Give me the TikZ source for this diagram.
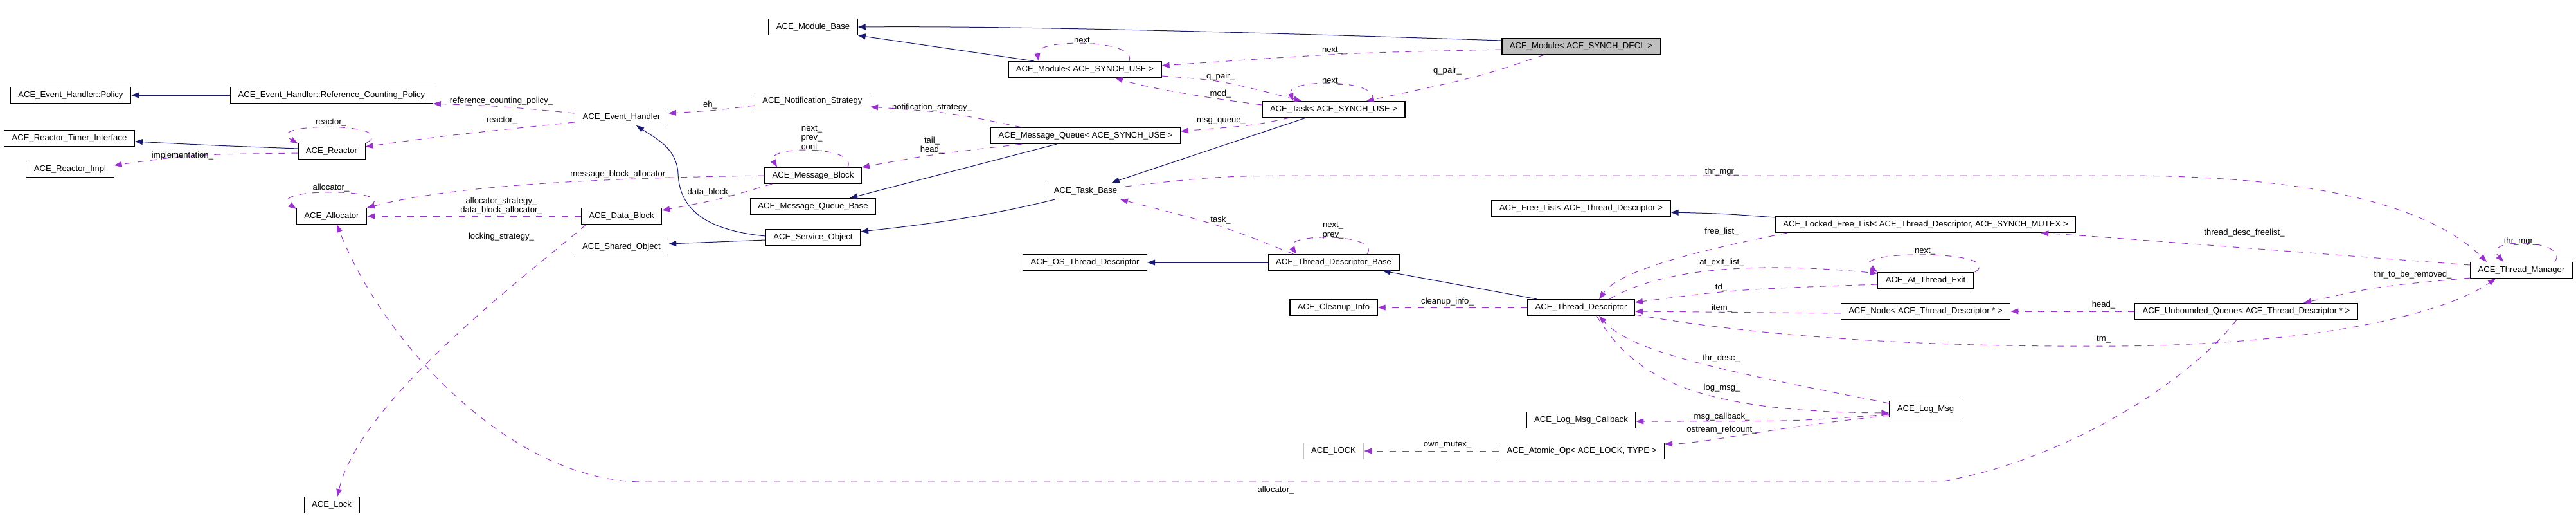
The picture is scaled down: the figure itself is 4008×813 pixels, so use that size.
\documentclass[tikz,border=0pt]{standalone}
\usepackage{fontspec}
\setmainfont{Liberation Sans}
\usetikzlibrary{arrows.meta,calc}
\definecolor{inhblue}{HTML}{191970}
\definecolor{memviolet}{HTML}{9A32CD}
\definecolor{litegray}{HTML}{BFBFBF}
\newcommand{\dxfont}{\fontsize{6.55}{7.25}\selectfont}

\begin{document}
\begin{tikzpicture}[x=0.5pt, y=-0.5pt,
    cls/.style={draw=black, fill=white, line width=0.55pt, font=\dxfont,
                minimum height=12.5pt, inner xsep=6pt, inner ysep=0pt},
    cur/.style={cls, fill=litegray},
    ghost/.style={cls, draw=litegray},
    inh/.style={-{Triangle[length=6pt, width=4.4pt]}, line width=0.5pt, inhblue},
    mem/.style={-{Triangle[length=6pt, width=4.4pt]}, line width=0.5pt, memviolet,
                dash pattern=on 5pt off 5pt},
    lab/.style={font=\dxfont, inner sep=0pt, align=center},
  ]
    \useasboundingbox (0,0) rectangle (4008,813);

    % classes, column by column
    \node[cls] (policy) at (110,148) {ACE\_Event\_Handler::Policy};
    \node[cls] (rtimer) at (108,215) {ACE\_Reactor\_Timer\_Interface};
    \node[cls] (rimpl) at (109,263) {ACE\_Reactor\_Impl};
    \node[cls] (rcpol) at (516,148) {ACE\_Event\_Handler::Reference\_Counting\_Policy};
    \node[cls] (reactor) at (516,235) {ACE\_Reactor};
    \node[cls] (alloc) at (516,336) {ACE\_Allocator};
    \node[cls] (lock) at (516,785) {ACE\_Lock};
    \node[cls] (ehand) at (967,182) {ACE\_Event\_Handler};
    \node[cls] (dblock) at (967,336) {ACE\_Data\_Block};
    \node[cls] (shobj) at (967,384) {ACE\_Shared\_Object};
    \node[cls] (mbase) at (1265,42) {ACE\_Module\_Base};
    \node[cls] (nstrat) at (1264,157) {ACE\_Notification\_Strategy};
    \node[cls] (mblock) at (1265,273) {ACE\_Message\_Block};
    \node[cls] (mqbase) at (1265,321) {ACE\_Message\_Queue\_Base};
    \node[cls] (sobj) at (1265,369) {ACE\_Service\_Object};
    \node[cls] (muse) at (1688,108) {ACE\_Module< ACE\_SYNCH\_USE >};
    \node[cls] (mqueue) at (1689,211) {ACE\_Message\_Queue< ACE\_SYNCH\_USE >};
    \node[cls] (tbase) at (1689,297) {ACE\_Task\_Base};
    \node[cls] (ostd) at (1688,408) {ACE\_OS\_Thread\_Descriptor};
    \node[cls] (task) at (2075,170) {ACE\_Task< ACE\_SYNCH\_USE >};
    \node[cls] (tdbase) at (2075,408) {ACE\_Thread\_Descriptor\_Base};
    \node[cls] (cleanup) at (2075,478) {ACE\_Cleanup\_Info};
    \node[ghost] (lockt) at (2075,701) {ACE\_LOCK};
    \node[cur] (mdecl) at (2460,72) {ACE\_Module< ACE\_SYNCH\_DECL >};
    \node[cls] (flist) at (2460,324) {ACE\_Free\_List< ACE\_Thread\_Descriptor >};
    \node[cls] (tdesc) at (2460,478) {ACE\_Thread\_Descriptor};
    \node[cls] (logcb) at (2460,653) {ACE\_Log\_Msg\_Callback};
    \node[cls] (atomic) at (2461,701) {ACE\_Atomic\_Op< ACE\_LOCK, TYPE >};
    \node[cls] (lflist) at (2996,349) {ACE\_Locked\_Free\_List< ACE\_Thread\_Descriptor, ACE\_SYNCH\_MUTEX >};
    \node[cls] (atexit) at (2996,436) {ACE\_At\_Thread\_Exit};
    \node[cls] (tnode) at (2996,484) {ACE\_Node< ACE\_Thread\_Descriptor * >};
    \node[cls] (logmsg) at (2996,636) {ACE\_Log\_Msg};
    \node[cls] (uqueue) at (3495,484) {ACE\_Unbounded\_Queue< ACE\_Thread\_Descriptor * >};
    \node[cls] (tman) at (3923,420) {ACE\_Thread\_Manager};

    % inheritance
    \draw[inh] ($(mdecl.west)+(0,-9)$) .. controls (2000,52) and (1600,40) .. (mbase.east);
    \draw[inh] ($(muse.north)+(-79,0)$) -- (mbase.south east);
    \draw[inh] (rcpol) -- (policy);
    \draw[inh] ($(reactor.west)+(0,-4)$) .. controls (330,226) .. ($(rtimer.east)+(0,5)$);
    \draw[inh] ($(sobj.west)+(0,-2)$) .. controls (1090,357) and (1057,320) .. (1055,270)
       .. controls (1053,230) and (1020,215) .. ($(ehand.south)+(23,0)$);
    \draw[inh] ($(sobj.west)+(0,4)$) -- ($(shobj.east)+(0,-5)$);
    \draw[inh] ($(tbase.south west)+(14,0)$) .. controls (1560,330) and (1480,345) .. ($(sobj.east)+(0,-9)$);
    \draw[inh] ($(mqueue.south)+(-45,0)$) -- ($(mqbase.north)+(57,0)$);
    \draw[inh] ($(task.south)+(-43,0)$) -- ($(tbase.north east)+(-21,0)$);
    \draw[inh] (tdbase) -- (ostd);
    \draw[inh] ($(tdesc.north west)+(15,0)$) -- ($(tdbase.south east)+(-26,0)$);
    \draw[inh] ($(lflist.north west)+(0,2)$) .. controls (2680,332) .. ($(flist.east)+(0,6)$);

    % members
    \draw[mem] ($(mdecl.west)+(0,5)$) .. controls (2100,82) .. ($(muse.east)+(0,-6)$);
    \draw[mem] ($(muse.north)+(69,0)$) .. controls (1770,60) and (1610,60) .. ($(muse.north)+(-72,0)$);
    \draw[mem] ($(mdecl.south)+(-57,0)$) .. controls (2300,120) .. ($(task.north)+(51,0)$);
    \draw[mem] ($(muse.south east)+(0,-3)$) .. controls (1900,125) .. ($(task.north)+(-50,0)$);
    \draw[mem] ($(task.west)+(0,-7)$) .. controls (1860,150) and (1780,135) .. ($(muse.south)+(47,0)$);
    \draw[mem] ($(task.north)+(60,0)$) .. controls (2150,122) and (2000,122) .. ($(task.north)+(-63,0)$);
    \draw[mem] ($(task.south)+(-68,0)$) .. controls (1950,195) .. ($(mqueue.east)+(0,-7)$);
    \draw[mem] ($(mqueue.north)+(-99,0)$) .. controls (1480,175) .. ($(nstrat.east)+(0,9)$);
    \draw[mem] ($(nstrat.west)+(0,7)$) .. controls (1110,172) .. ($(ehand.east)+(0,-6)$);
    \draw[mem] ($(mqueue.south)+(-99,0)$) .. controls (1450,240) .. (mblock.north east);
    \draw[mem] ($(mblock.north)+(54,0)$) .. controls (1335,226) and (1190,226) .. ($(mblock.north)+(-56,0)$);
    \draw[mem] (mblock.west) .. controls (850,278) and (680,295) .. (alloc.north east);
    \draw[mem] ($(alloc.north east)+(5,-3)$) .. controls (620,292) and (415,292) .. ($(alloc.north west)+(0,2)$);
    \draw[mem] (dblock) -- (alloc);
    \draw[mem] ($(mblock.south west)+(12,0)$) .. controls (1120,310) .. ($(dblock.east)+(0,-9)$);
    \draw[mem] ($(dblock.south west)+(8,0)$) .. controls (830,420) and (560,620) .. ($(lock.north)+(9,0)$);
    \draw[mem] ($(uqueue.south)+(-15,0)$) .. controls (3400,600) and (3200,720) .. (3017,749)
       -- (1000,749) .. controls (800,749) and (600,540) .. ($(alloc.south)+(8,0)$);
    \draw[mem] ($(tbase.east)+(0,-7)$) .. controls (1900,273) .. (2100,273) -- (3300,273)
       .. controls (3600,273) and (3780,320) .. ($(tman.north)+(-54,0)$);
    \draw[mem] ($(tdbase.north west)+(40,0)$) .. controls (1900,350) .. ($(tbase.south)+(54,0)$);
    \draw[mem] ($(tdbase.north)+(52,0)$) .. controls (2150,362) and (1995,362) .. ($(tdbase.north)+(-58,0)$);
    \draw[mem] (tdesc) -- (cleanup);
    \draw[mem] ($(lflist.south west)+(19,0)$) .. controls (2640,390) and (2520,420) .. ($(tdesc.north)+(28,0)$);
    \draw[mem] ($(tdesc.north)+(44,0)$) .. controls (2580,420) and (2720,405) .. ($(atexit.west)+(0,-11)$);
    \draw[mem] ($(atexit.north east)+(2,0)$) .. controls (3125,388) and (2870,388) .. (atexit.north west);
    \draw[mem] ($(atexit.west)+(0,6)$) .. controls (2700,450) .. ($(tdesc.east)+(0,-8)$);
    \draw[mem] ($(tnode.west)+(0,3)$) -- ($(tdesc.east)+(0,6)$);
    \draw[mem] (uqueue) -- (tnode);
    \draw[mem] ($(tman.south west)+(0,-1)$) .. controls (3700,445) .. ($(uqueue.north)+(89,0)$);
    \draw[mem] ($(tman.west)+(0,-8)$) .. controls (3550,390) and (3300,370) .. ($(lflist.south east)+(-55,0)$);
    \draw[mem] ($(tman.north)+(52,0)$) .. controls (4000,372) and (3860,368) .. ($(tman.north)+(-28,0)$);
    \draw[mem] ($(tdesc.south east)+(0,-2)$) .. controls (2750,525) and (3000,540) .. (3300,538)
       .. controls (3600,535) and (3800,490) .. ($(tman.south)+(-40,0)$);
    \draw[mem] ($(logmsg.west)+(0,-9)$) .. controls (2700,580) and (2540,550) .. ($(tdesc.south)+(28,0)$);
    \draw[mem] ($(tdesc.south)+(24,0)$) .. controls (2540,580) and (2620,640) .. ($(logmsg.west)+(0,6)$);
    \draw[mem] ($(logmsg.west)+(0,8)$) .. controls (2800,655) .. ($(logcb.east)+(0,2)$);
    \draw[mem] ($(logmsg.west)+(0,10)$) .. controls (2750,665) and (2650,690) .. ($(atomic.east)+(0,-11)$);
    \draw[mem] (atomic) -- (lockt);
    \draw[mem] ($(ehand.west)+(0,8)$) .. controls (700,210) .. ($(reactor.east)+(0,-7)$);
    \draw[mem] ($(ehand.west)+(0,-6)$) .. controls (780,165) .. (rcpol.south east);
    \draw[mem] ($(reactor.north east)+(2,0)$) .. controls (625,190) and (405,190) .. ($(reactor.north west)+(0,1)$);
    \draw[mem] ($(reactor.west)+(0,3)$) .. controls (300,240) .. ($(rimpl.east)+(0,-6)$);

    % member names
    \node[lab] (lNextDecl) at (2073,79) {next\_};
    \node[lab] (lNextUse) at (1687,64) {next\_};
    \node[lab] (lPairDecl) at (2252,110) {q\_pair\_};
    \node[lab] (lPairUse) at (1899,119) {q\_pair\_};
    \node[lab] (lMod) at (1899,146) {mod\_};
    \node[lab] (lNextTask) at (2073,127) {next\_};
    \node[lab] (lMsgQueue) at (1900,188) {msg\_queue\_};
    \node[lab] (lNotify) at (1450,167) {notification\_strategy\_};
    \node[lab] (lEh) at (1105,163) {eh\_};
    \node[lab] (lTailHead) at (1450,226) {tail\_\\head\_};
    \node[lab] (lBlockLinks) at (1263,215) {next\_\\prev\_\\cont\_};
    \node[lab] (lBlockAlloc) at (965,271) {message\_block\_allocator\_};
    \node[lab] (lAllocSelf) at (515,292) {allocator\_};
    \node[lab] (lAllocStrat) at (780,320) {allocator\_strategy\_\\data\_block\_allocator\_};
    \node[lab] (lDataBlock) at (1105,299) {data\_block\_};
    \node[lab] (lLocking) at (780,368) {locking\_strategy\_};
    \node[lab] (lAllocQueue) at (1985,762) {allocator\_};
    \node[lab] (lThrMgr) at (2679,267) {thr\_mgr\_};
    \node[lab] (lTask) at (1899,342) {task\_};
    \node[lab] (lDescLinks) at (2074,358) {next\_\\prev\_};
    \node[lab] (lCleanup) at (2252,469) {cleanup\_info\_};
    \node[lab] (lFreeList) at (2679,360) {free\_list\_};
    \node[lab] (lAtExit) at (2679,408) {at\_exit\_list\_};
    \node[lab] (lNextExit) at (2995,391) {next\_};
    \node[lab] (lTd) at (2678,447) {td\_};
    \node[lab] (lItem) at (2679,479) {item\_};
    \node[lab] (lHead) at (3273,474) {head\_};
    \node[lab] (lToRemove) at (3754,427) {thr\_to\_be\_removed\_};
    \node[lab] (lFreelist) at (3492,362) {thread\_desc\_freelist\_};
    \node[lab] (lThrMgrSelf) at (3922,375) {thr\_mgr\_};
    \node[lab] (lTm) at (3273,528) {tm\_};
    \node[lab] (lThrDesc) at (2678,557) {thr\_desc\_};
    \node[lab] (lLogMsg) at (2679,603) {log\_msg\_};
    \node[lab] (lCallback) at (2679,648) {msg\_callback\_};
    \node[lab] (lRefcount) at (2679,668) {ostream\_refcount\_};
    \node[lab] (lOwnMutex) at (2252,692) {own\_mutex\_};
    \node[lab] (lReactor) at (781,188) {reactor\_};
    \node[lab] (lRefPolicy) at (780,157) {reference\_counting\_policy\_};
    \node[lab] (lReactorSelf) at (515,191) {reactor\_};
    \node[lab] (lImpl) at (284,242) {implementation\_};
  \end{tikzpicture}
\end{document}
